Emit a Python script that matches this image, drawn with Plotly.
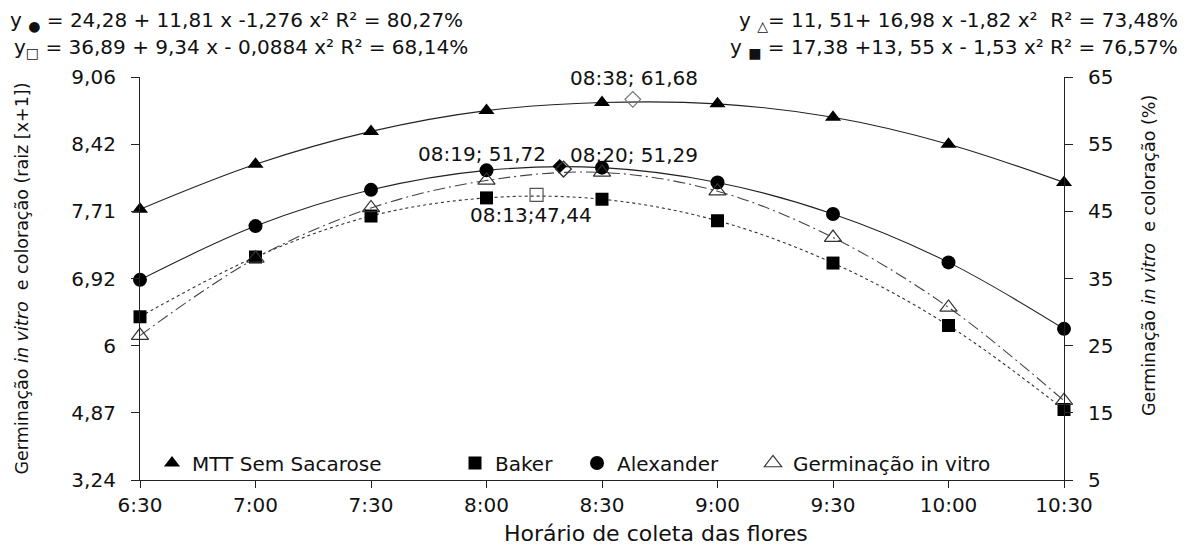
import plotly.graph_objects as go

# ---------------- data ----------------
times = ["6:30", "7:00", "7:30", "8:00", "8:30", "9:00", "9:30", "10:00", "10:30"]
xpos = [1, 2, 3, 4, 5, 6, 7, 8, 9]

mtt = [45.3, 52.0, 56.9, 60.0, 61.2, 61.0, 59.0, 55.0, 49.3]
baker = [29.3, 38.2, 44.3, 47.0, 46.8, 43.6, 37.3, 28.0, 15.5]
alexander = [34.8, 42.8, 48.2, 51.1, 51.5, 49.3, 44.6, 37.4, 27.5]
germinacao = [26.5, 38.0, 45.5, 49.6, 50.8, 48.0, 41.1, 30.7, 16.8]

# vertices of the fitted curves (time, value)
vert_times = ["08:38", "08:19", "08:20", "08:13"]
vert_values = [61.68, 51.72, 51.29, 47.44]
vert_labels = ["08:38; 61,68", "08:19; 51,72", "08:20; 51,29", "08:13;47,44"]

right_ticks = [5, 15, 25, 35, 45, 55, 65]
left_ticktext = ["3,24", "4,87", "6", "6,92", "7,71", "8,42", "9,06"]

eq_left = ["y <sub>●</sub> = 24,28 + 11,81 x -1,276 x² R² = 80,27%",
           "y<sub>□</sub> = 36,89 + 9,34 x - 0,0884 x² R² = 68,14%"]
eq_right = ["y <sub>△</sub>= 11, 51+ 16,98 x -1,82 x²  R² = 73,48%",
            "y <sub>■</sub> = 17,38 +13, 55 x - 1,53 x² R² = 76,57%"]

x_title = "Horário de coleta das flores"
y_left_title = "Germinação <i>in vitro</i>  e coloração (raiz [x+1])"
y_right_title = "Germinação <i>in vitro</i>  e coloração (%)"


def time_to_x(t):
    h, m = t.split(":")
    minutes = int(h) * 60 + int(m)
    return 1 + (minutes - 390) / 30.0


vx = [time_to_x(t) for t in vert_times]

FONT = "DejaVu Sans"
INK = "#111111"

fig = go.Figure()

# curves
line_specs = [
    (mtt, dict(color="#222222", width=1.1, dash="solid")),
    (alexander, dict(color="#222222", width=1.1, dash="solid")),
    (baker, dict(color="#333333", width=1.1, dash="dot")),
    (germinacao, dict(color="#444444", width=1.1, dash="12px,4px,2px,4px")),
]
for vals, ln in line_specs:
    fig.add_trace(go.Scatter(x=xpos, y=vals, mode="lines", line=dict(shape="spline", smoothing=1.0, **ln),
                             showlegend=False, hoverinfo="skip", cliponaxis=False))

# markers
marker_specs = [
    ("MTT Sem Sacarose", mtt, dict(symbol="triangle-up", size=14, color="black"), "legend"),
    ("Baker", baker, dict(symbol="square", size=13, color="black"), "legend2"),
    ("Alexander", alexander, dict(symbol="circle", size=14, color="black"), "legend3"),
    ("Germinação in vitro", germinacao,
     dict(symbol="triangle-up-open", size=15, color="#333333", line=dict(width=1.2, color="#333333")), "legend4"),
]
for name, vals, mk, lg in marker_specs:
    fig.add_trace(go.Scatter(x=xpos, y=vals, mode="markers", name=name, marker=mk,
                             legend=lg, cliponaxis=False))

# vertex markers
vert_marker = [
    dict(symbol="diamond-open", size=12, color="#777777", line=dict(width=1.2, color="#777777")),
    dict(symbol="diamond", size=11, color="black"),
    dict(symbol="diamond-open", size=12, color="#333333", line=dict(width=1.4, color="#333333")),
    dict(symbol="square-open", size=13, color="#555555", line=dict(width=1.2, color="#555555")),
]
for i in range(4):
    fig.add_trace(go.Scatter(x=[vx[i]], y=[vert_values[i]], mode="markers", marker=vert_marker[i],
                             showlegend=False, cliponaxis=False))

# vertex annotations (offsets in pixels)
ann_pos = [
    dict(xanchor="center", xshift=1, yshift=21),
    dict(xanchor="right", xshift=-12, yshift=12),
    dict(xanchor="left", xshift=4, yshift=14),
    dict(xanchor="center", xshift=-6, yshift=-20),
]
for i in range(4):
    fig.add_annotation(x=vx[i], y=vert_values[i], text=vert_labels[i], showarrow=False,
                       yanchor="middle", font=dict(family=FONT, size=20, color=INK), **ann_pos[i])

# page has an 8px body margin: figure origin sits at screen (8, 8)
OFF = 8
FW, FH = 1195 - OFF, 545 - OFF
L, R, T, B = 140 - OFF, 131, 77 - OFF, 65
W, H = FW - L - R, FH - T - B


def px_x(p):
    return (p - OFF - L) / W


def px_y(p):
    return (FH - B - (p - OFF)) / H


for i, txt in enumerate(eq_left):
    fig.add_annotation(xref="paper", yref="paper", x=px_x(8 + 4 * i), y=px_y(21 + 27 * i), text=txt,
                       showarrow=False, xanchor="left", yanchor="middle",
                       font=dict(family=FONT, size=20, color=INK))
for i, txt in enumerate(eq_right):
    fig.add_annotation(xref="paper", yref="paper", x=px_x(1180), y=px_y(21 + 27 * i), text=txt,
                       showarrow=False, xanchor="right", yanchor="middle",
                       font=dict(family=FONT, size=20, color=INK))

# axis titles placed where the reference draws them
fig.add_annotation(xref="paper", yref="paper", x=px_x(656), y=px_y(533), text=x_title,
                   showarrow=False, xanchor="center", yanchor="middle",
                   font=dict(family=FONT, size=22, color=INK))
fig.add_annotation(xref="paper", yref="paper", x=px_x(1149), y=px_y(256), text=y_right_title,
                   showarrow=False, xanchor="center", yanchor="middle", textangle=-90,
                   font=dict(family=FONT, size=17.5, color=INK))

axis_font = dict(family=FONT, size=20, color=INK)

fig.update_layout(
    width=FW, height=FH,
    margin=dict(l=L, r=R, t=T, b=B, pad=0),
    paper_bgcolor="white", plot_bgcolor="white",
    font=dict(family=FONT, color=INK),
    xaxis=dict(range=[1, 9], tickvals=xpos, ticktext=times, showgrid=False, zeroline=False,
               showline=True, linecolor="#222222", linewidth=1.2, ticks="outside", ticklen=7,
               tickcolor="#222222", tickfont=axis_font, automargin=False),
    yaxis=dict(range=[5, 65], tickvals=right_ticks, ticktext=left_ticktext, showgrid=False, zeroline=False,
               showline=True, linecolor="#222222", linewidth=1.2, ticks="outside", ticklen=8,
               tickcolor="#222222", tickfont=axis_font, ticklabelstandoff=11, automargin=False,
               title=dict(text=y_left_title, font=dict(family=FONT, size=17.5, color=INK), standoff=38)),
    yaxis2=dict(range=[5, 65], tickvals=right_ticks, overlaying="y", side="right", showgrid=False,
                zeroline=False, showline=True, linecolor="#222222", linewidth=1.2, ticks="outside",
                ticklen=8, tickcolor="#222222", tickfont=axis_font, ticklabelstandoff=11, automargin=False),
    showlegend=True,
)

# dummy trace to activate the right axis
fig.add_trace(go.Scatter(x=[None], y=[None], yaxis="y2", showlegend=False, hoverinfo="skip"))

leg_centers = [172, 475, 597, 773]
leg_names = ["legend", "legend2", "legend3", "legend4"]
for c, ln in zip(leg_centers, leg_names):
    fig.update_layout({ln: dict(x=px_x(c - 20), xanchor="left", y=px_y(463), yanchor="middle",
                                orientation="h", bgcolor="rgba(0,0,0,0)", borderwidth=0,
                                font=dict(family=FONT, size=20, color=INK), itemwidth=30)})

fig.write_html("out.html")
